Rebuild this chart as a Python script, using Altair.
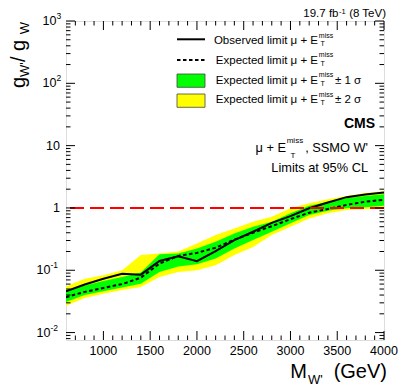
import altair as alt
import pandas as pd

# ---------------- data ----------------
mass = [600, 800, 1000, 1200, 1400, 1600, 1800, 2000, 2200, 2400,
        2600, 2800, 3000, 3200, 3400, 3600, 3800, 4000]
observed = [0.046, 0.059, 0.073, 0.088, 0.085, 0.141, 0.168, 0.140, 0.202, 0.305,
            0.415, 0.575, 0.74, 0.99, 1.22, 1.49, 1.64, 1.77]
expected = [0.037, 0.045, 0.052, 0.060, 0.076, 0.128, 0.170, 0.190, 0.230, 0.310,
            0.400, 0.510, 0.66, 0.84, 0.96, 1.12, 1.26, 1.35]
band1_lo = [0.031, 0.040, 0.046, 0.053, 0.061, 0.094, 0.115, 0.125, 0.155, 0.224,
            0.305, 0.415, 0.567, 0.77, 0.90, 0.99, 1.03, 1.08]
band1_hi = [0.048, 0.057, 0.067, 0.078, 0.092, 0.180, 0.186, 0.224, 0.286, 0.390,
            0.500, 0.600, 0.82, 1.08, 1.26, 1.43, 1.56, 1.66]
band2_lo = [0.027, 0.036, 0.042, 0.048, 0.054, 0.078, 0.094, 0.100, 0.120, 0.175,
            0.237, 0.367, 0.50, 0.68, 0.82, 0.93, 0.95, 0.99]
band2_hi = [0.055, 0.073, 0.083, 0.100, 0.175, 0.186, 0.200, 0.270, 0.367, 0.470,
            0.600, 0.720, 0.99, 1.19, 1.38, 1.56, 1.74, 1.85]

x_label_values = [1000, 1500, 2000, 2500, 3000, 3500, 4000]
x_minor_values = [v for v in range(700, 4000, 100) if v % 500 != 0]
y_major_values = [0.01, 0.1, 1, 10, 100, 1000]
y_minor_values = [m * 10.0 ** d for d in range(-3, 3) for m in range(2, 10)
                  if 0.0076 <= m * 10.0 ** d <= 1000]
reference_line = [1.0]

FONT = "Liberation Sans"
W, H = 318, 319
xs = alt.Scale(domain=[600, 4000], nice=False, zero=False)
ys = alt.Scale(type="log", domain=[0.0076, 1000], nice=False)

df = pd.DataFrame(dict(mass=mass, obs=observed, exp=expected,
                       lo1=band1_lo, hi1=band1_hi, lo2=band2_lo, hi2=band2_hi))
base = alt.Chart(df)
x_plain = alt.X("mass:Q", scale=xs, axis=None)

band2 = base.mark_area(color="#ffff00", clip=True).encode(
    x=x_plain, y=alt.Y("lo2:Q", scale=ys, axis=None), y2="hi2:Q")
band1 = base.mark_area(color="#00ff00", clip=True).encode(
    x=x_plain, y=alt.Y("lo1:Q", scale=ys, axis=None), y2="hi1:Q")
exp_line = base.mark_line(color="black", strokeWidth=2, strokeDash=[3.5, 2.5], clip=True).encode(
    x=x_plain, y=alt.Y("exp:Q", scale=ys, axis=None))
obs_line = base.mark_line(color="black", strokeWidth=2, clip=True).encode(
    x=x_plain, y=alt.Y("obs:Q", scale=ys, axis=None))
red = alt.Chart(pd.DataFrame({"y": reference_line})).mark_rule(
    color="#ff0000", strokeWidth=2, strokeDash=[14, 6]).encode(
    y=alt.Y("y:Q", scale=ys, axis=None))

# ---------------- inward ticks (ROOT style) ----------------
def xticks(values, length):
    d = alt.Chart(pd.DataFrame({"v": values}))
    bot = d.mark_rule(color="black", strokeWidth=1).encode(
        x=alt.X("v:Q", scale=xs, axis=None), y=alt.value(H), y2=alt.value(H - length))
    top = d.mark_rule(color="black", strokeWidth=1).encode(
        x=alt.X("v:Q", scale=xs, axis=None), y=alt.value(0), y2=alt.value(length))
    return [bot, top]

def yticks(values, length):
    d = alt.Chart(pd.DataFrame({"v": values}))
    left = d.mark_rule(color="black", strokeWidth=1).encode(
        y=alt.Y("v:Q", scale=ys, axis=None), x=alt.value(0), x2=alt.value(length))
    right = d.mark_rule(color="black", strokeWidth=1).encode(
        y=alt.Y("v:Q", scale=ys, axis=None), x=alt.value(W), x2=alt.value(W - length))
    return [left, right]

ticks = (xticks(x_label_values, 9) + xticks(x_minor_values, 4.5) +
         yticks(y_major_values, 9) + yticks(y_minor_values, 4.5))

# ---------------- tick labels ----------------
xlab_df = pd.DataFrame({"v": x_label_values, "t": [str(v) for v in x_label_values]})
xlabels = alt.Chart(xlab_df).mark_text(align="center", baseline="top", font=FONT,
                                       fontSize=12.5, color="black").encode(
    x=alt.X("v:Q", scale=xs, axis=None), y=alt.value(H + 4.5), text="t:N")

pos_df = pd.DataFrame({"v": [1000, 100], "e": ["3", "2"], "b": ["10", "10"]})
neg_df = pd.DataFrame({"v": [0.1, 0.01], "e": ["-1", "-2"], "b": ["10", "10"]})
plain_df = pd.DataFrame({"v": [10, 1], "t": ["10", "1"]})

def ylab(df_, field, x, size, align, dy=0):
    return alt.Chart(df_).mark_text(align=align, baseline="middle", font=FONT,
                                    fontSize=size, color="black", dy=dy).encode(
        y=alt.Y("v:Q", scale=ys, axis=None), x=alt.value(x), text=f"{field}:N")

ylabels = [
    ylab(pos_df, "b", -9.5, 12.5, "right"),
    ylab(pos_df, "e", -9.5, 8.5, "left", -5),
    ylab(neg_df, "b", -15.5, 12.5, "right"),
    ylab(neg_df, "e", -15.5, 8.5, "left", -5),
    ylab(plain_df, "t", -6, 12.5, "right"),
]

# ---------------- text helpers ----------------
one = pd.DataFrame({"k": [0]})

def txt(s, x, y, size, align="left", weight="normal", angle=0):
    return alt.Chart(one).mark_text(text=s, align=align, baseline="alphabetic", font=FONT,
                                    fontSize=size, fontWeight=weight, angle=angle,
                                    color="black").encode(x=alt.value(x), y=alt.value(y))

texts = []
# energy/lumi label
texts += [txt("19.7 fb", 272.5, -3.8, 11.5, "right"),
          txt("-1", 273, -7.0, 7.5, "left"),
          txt("(8 TeV)", 320, -3.8, 11.5, "right")]

# legend
rows_y = [23.0, 42.7, 62.6, 82.4]
legend_main = ["Observed limit \u03bc + E", "Expected limit \u03bc + E",
               "Expected limit \u03bc + E", "Expected limit \u03bc + E"]
legend_tail = ["", "", "\u00b1 1 \u03c3", "\u00b1 2 \u03c3"]
for yb, m, t in zip(rows_y, legend_main, legend_tail):
    texts.append(txt(m, 252, yb, 11.5, "right"))
    texts.append(txt("miss", 252.8, yb - 6.3, 7, "left"))
    texts.append(txt("T", 254.5, yb + 2, 7, "left"))
    if t:
        texts.append(txt(t, 269, yb, 11.5, "left"))

leg_obs = alt.Chart(one).mark_rule(color="black", strokeWidth=2).encode(
    x=alt.value(111), x2=alt.value(139), y=alt.value(18.3))
leg_exp = alt.Chart(one).mark_rule(color="black", strokeWidth=2, strokeDash=[3.5, 2.5]).encode(
    x=alt.value(111), x2=alt.value(139), y=alt.value(39))
leg_g = alt.Chart(one).mark_rect(color="#00ff00", stroke="#444444", strokeWidth=0.8).encode(
    x=alt.value(111), x2=alt.value(139), y=alt.value(53), y2=alt.value(66.3))
leg_y = alt.Chart(one).mark_rect(color="#ffff00", stroke="#444444", strokeWidth=0.8).encode(
    x=alt.value(111), x2=alt.value(139), y=alt.value(73), y2=alt.value(86.3))

# CMS + descriptive text
texts += [txt("CMS", 309, 107, 14, "right", "bold"),
          txt("\u03bc + E", 220, 130.5, 12.8, "right"),
          txt("miss", 220.7, 122, 8, "left"),
          txt("T", 224.5, 137, 8, "left"),
          txt(", SSMO W'", 302, 130.5, 12.8, "right"),
          txt("Limits at 95% CL", 302, 150.5, 12.8, "right")]

# axis titles
texts += [txt("M", 241, 357, 20, "right"),
          txt("W'", 242, 363, 13, "left"),
          txt("(GeV)", 321, 357, 20, "right")]
texts += [txt("g", -41, 67, 20, "left", angle=270),
          txt("W'", -37, 55.9, 13, "left", angle=270),
          txt(" / g", -41, 41.1, 20, "left", angle=270),
          txt("W", -37, 13.3, 13, "left", angle=270)]

chart = alt.layer(
    band2, band1, exp_line, obs_line, red, *ticks, xlabels, *ylabels,
    leg_obs, leg_exp, leg_g, leg_y, *texts
).properties(
    width=W, height=H,
    autosize=alt.AutoSizeParams(type="none"),
    padding={"left": 58, "top": 13, "right": 15, "bottom": 50},
).configure_view(stroke="black", strokeWidth=1).configure(background="white")

chart.save("out.html", embed_options={"renderer": "svg", "actions": False})
